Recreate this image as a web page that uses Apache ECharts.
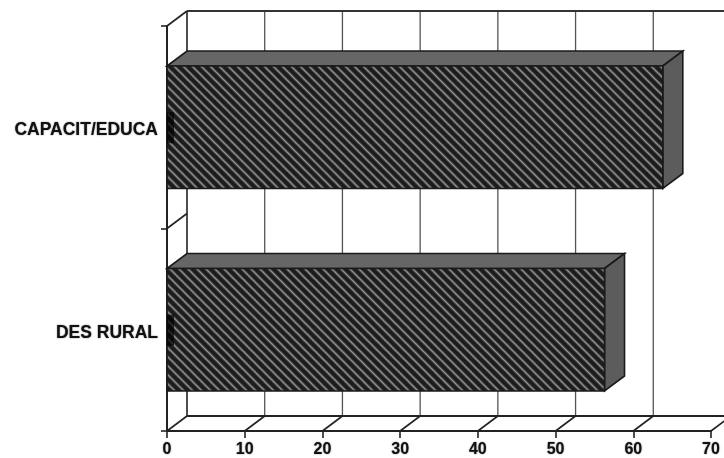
<!DOCTYPE html>
<html><head><meta charset="utf-8">
<style>html,body{margin:0;padding:0;background:#fff}#c{width:724px;height:458px}</style>
<script src="https://cdn.jsdelivr.net/npm/echarts@6/dist/echarts.min.js"></script>
</head><body><div id="c"></div>
<script>
const categories = ['CAPACIT/EDUCA', 'DES RURAL'];
const values = [63.8, 56.3];
const xTicks = [0, 10, 20, 30, 40, 50, 60, 70];

const DX = 20, DY = -15;

function hatch() {
  const n = 9, c = document.createElement('canvas');
  c.width = n; c.height = n;
  const g = c.getContext('2d');
  g.fillStyle = '#1c1c1c'; g.fillRect(0, 0, n, n);
  g.strokeStyle = 'rgba(140,140,140,0.4)'; g.lineWidth = 3;
  for (let o = -n; o <= n; o += n) {
    g.beginPath(); g.moveTo(o - 1, -1); g.lineTo(o + n + 1, n + 1); g.stroke();
  }
  g.strokeStyle = '#949494'; g.lineWidth = 1.2;
  for (let o = -n; o <= n; o += n) {
    g.beginPath(); g.moveTo(o - 1, -1); g.lineTo(o + n + 1, n + 1); g.stroke();
  }
  return { image: c, repeat: 'repeat' };
}
const hatchFill = hatch();

const line = (a, b, stroke, w) => ({
  type: 'line',
  shape: { x1: a[0], y1: a[1], x2: b[0], y2: b[1] },
  style: { stroke, lineWidth: w }
});

function renderWalls(params, api) {
  if (params.dataIndex !== 0) return;
  const cs = params.coordSys;
  const top = cs.y, bottom = cs.y + cs.height;
  const mid = (top + bottom) / 2;
  const kids = [];
  xTicks.forEach(t => {
    const x = api.coord([t, categories[0]])[0];
    const isFirst = t === xTicks[0];
    kids.push(line([x + DX, top + DY], [x + DX, bottom + DY], isFirst ? '#222' : '#555', isFirst ? 1.6 : 1.3));
    kids.push(line([x, bottom], [x + DX, bottom + DY], '#222', 1.6));
  });
  const x0 = cs.x, x1 = cs.x + cs.width;
  kids.push(line([x0 + DX, top + DY], [x1 + DX, top + DY], '#333', 1.8));
  kids.push(line([x0 + DX, bottom + DY], [x1 + DX, bottom + DY], '#222', 2));
  kids.push(line([x0, top], [x0 + DX, top + DY], '#222', 1.6));
  kids.push(line([x0, mid], [x0 + DX, mid + DY], '#222', 1.6));
  return { type: 'group', children: kids };
}

function renderBar(params, api) {
  const v = api.value(0), i = api.value(1);
  const end = api.coord([v, i]), start = api.coord([0, i]);
  const h = api.size([0, 1])[1] * 0.605;
  const x0 = start[0], x1 = end[0], y0 = end[1] - h / 2, y1 = end[1] + h / 2;
  const edge = '#1a1a1a';
  return {
    type: 'group',
    children: [
      { type: 'polygon', shape: { points: [[x0, y0], [x0 + DX, y0 + DY], [x1 + DX, y0 + DY], [x1, y0]] },
        style: { fill: '#666', stroke: edge, lineWidth: 1.6 } },
      { type: 'polygon', shape: { points: [[x1, y0], [x1 + DX, y0 + DY], [x1 + DX, y1 + DY], [x1, y1]] },
        style: { fill: '#5c5c5c', stroke: edge, lineWidth: 1.6 } },
      { type: 'rect', shape: { x: x0, y: y0, width: x1 - x0, height: y1 - y0 },
        style: { fill: hatchFill, stroke: edge, lineWidth: 1.6 } },
      { type: 'rect', shape: { x: x0, y: end[1] - 15, width: 7, height: 31 },
        style: { fill: 'rgba(0,0,0,0.7)' } }
    ]
  };
}

const labelShadow = { color: '#111', fontFamily: 'Liberation Sans', fontWeight: 'bold',
  textShadowColor: 'rgba(0,0,0,0.6)', textShadowBlur: 1.5 };

const chart = echarts.init(document.getElementById('c'));
chart.setOption({
  animation: false,
  backgroundColor: '#fff',
  grid: { left: 167, top: 26, width: 544, height: 405, containLabel: false },
  xAxis: {
    type: 'value', min: 0, max: 70, interval: 10,
    axisLine: { show: true, onZero: false, lineStyle: { color: '#222', width: 2 } },
    axisTick: { show: true, length: 7, lineStyle: { color: '#222', width: 1.6 } },
    axisLabel: { ...labelShadow, fontSize: 16, margin: 11, showMaxLabel: true, showMinLabel: true },
    splitLine: { show: false }
  },
  yAxis: {
    type: 'category', inverse: true, data: categories,
    axisLine: { show: true, onZero: false, lineStyle: { color: '#222', width: 2 } },
    axisTick: { show: true, length: 6, lineStyle: { color: '#222', width: 1.6 } },
    axisLabel: { ...labelShadow, fontSize: 17.5, margin: 9, verticalAlign: 'top', lineHeight: 6 },
    splitLine: { show: false }
  },
  series: [
    { type: 'custom', z: 1, renderItem: renderWalls, silent: true, clip: false,
      data: [[0, 0]], encode: { x: 0, y: 1 } },
    { type: 'custom', z: 2, renderItem: renderBar, silent: true, clip: false,
      data: values.map((v, i) => [v, i]), encode: { x: 0, y: 1 } }
  ]
});
</script></body></html>
